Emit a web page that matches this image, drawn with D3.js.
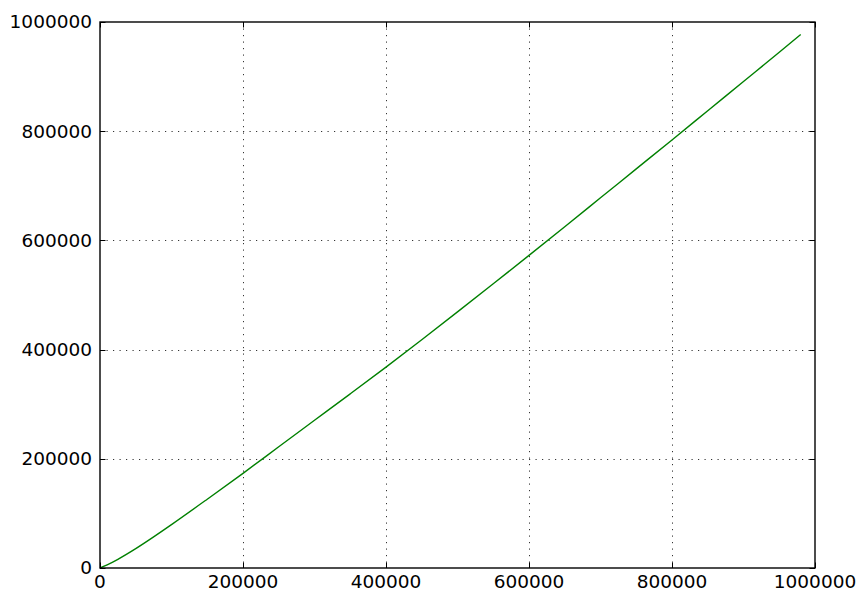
<!DOCTYPE html>
<html>
<head>
<meta charset="utf-8">
<script src="https://cdn.jsdelivr.net/npm/d3@7"></script>
<style>
  html, body { margin: 0; padding: 0; background: #fff; }
  svg { display: block; }
  .tick-label { font-family: "DejaVu Sans", sans-serif; font-size: 18.5px; fill: #000; }
</style>
</head>
<body>
<svg id="chart" width="858" height="590"></svg>
<script>
// Measured series: input size vs. output count
const xValues = [0, 10000, 25000, 50000, 75000, 100000, 150000, 200000, 250000, 300000,
                 350000, 400000, 450000, 500000, 550000, 600000, 650000, 700000, 750000,
                 800000, 850000, 900000, 950000, 980000];
const yValues = [0, 5800, 16000, 35500, 57000, 79500, 126000, 173400, 222000, 270500,
                 319000, 368000, 418000, 469000, 520500, 572500, 625000, 678000, 731000,
                 784000, 837500, 891000, 944500, 977000];

const xTicks = [0, 200000, 400000, 600000, 800000, 1000000];
const yTicks = [0, 200000, 400000, 600000, 800000, 1000000];

const margin = { left: 100, right: 43, top: 22, bottom: 22 };
const width = 858, height = 590;
const plotW = width - margin.left - margin.right;   // 715
const plotH = height - margin.top - margin.bottom;  // 546

const svg = d3.select("#chart");

const x = d3.scaleLinear().domain([0, 1000000]).range([margin.left, margin.left + plotW]);
const y = d3.scaleLinear().domain([0, 1000000]).range([margin.top + plotH, margin.top]);

// Dotted grid
const grid = svg.append("g").attr("class", "grid");
grid.selectAll("line.vg").data(xTicks.slice(1, -1)).join("line")
  .attr("x1", d => Math.round(x(d)) + 0.5).attr("x2", d => Math.round(x(d)) + 0.5)
  .attr("y1", y(1000000)).attr("y2", y(0))
  .attr("stroke", "#000").attr("stroke-width", 0.8)
  .attr("stroke-dasharray", "1.2,5.3");
grid.selectAll("line.hg").data(yTicks.slice(1, -1)).join("line")
  .attr("y1", d => Math.round(y(d)) + 0.5).attr("y2", d => Math.round(y(d)) + 0.5)
  .attr("x1", x(0)).attr("x2", x(1000000))
  .attr("stroke", "#000").attr("stroke-width", 0.8)
  .attr("stroke-dasharray", "1.2,5.3");

// Data line
const pts = xValues.map((v, i) => [v, yValues[i]]);
svg.append("path")
  .datum(pts)
  .attr("fill", "none")
  .attr("stroke", "#008000")
  .attr("stroke-width", 1.4)
  .attr("d", d3.line().x(d => x(d[0])).y(d => y(d[1])).curve(d3.curveMonotoneX));

// Inward ticks on all four sides
const tickLen = 5.5;
const ticks = svg.append("g").attr("stroke", "#000").attr("stroke-width", 1);
xTicks.forEach(t => {
  const px = Math.round(x(t)) + 0.5;
  ticks.append("line").attr("x1", px).attr("x2", px).attr("y1", y(0)).attr("y2", y(0) - tickLen);
  ticks.append("line").attr("x1", px).attr("x2", px).attr("y1", y(1000000)).attr("y2", y(1000000) + tickLen);
});
yTicks.forEach(t => {
  const py = Math.round(y(t)) + 0.5;
  ticks.append("line").attr("y1", py).attr("y2", py).attr("x1", x(0)).attr("x2", x(0) + tickLen);
  ticks.append("line").attr("y1", py).attr("y2", py).attr("x1", x(1000000)).attr("x2", x(1000000) - tickLen);
});

// Frame
svg.append("rect")
  .attr("x", x(0)).attr("y", y(1000000))
  .attr("width", plotW).attr("height", plotH)
  .attr("fill", "none").attr("stroke", "#000").attr("stroke-width", 1.4);

// Tick labels
svg.append("g").selectAll("text").data(xTicks).join("text")
  .attr("class", "tick-label")
  .attr("x", d => x(d)).attr("y", y(0) + 19.5)
  .attr("text-anchor", "middle")
  .text(d => d3.format("d")(d));
svg.append("g").selectAll("text").data(yTicks).join("text")
  .attr("class", "tick-label")
  .attr("x", x(0) - 8).attr("y", d => y(d))
  .attr("dy", "0.35em")
  .attr("text-anchor", "end")
  .text(d => d3.format("d")(d));
</script>
</body>
</html>
